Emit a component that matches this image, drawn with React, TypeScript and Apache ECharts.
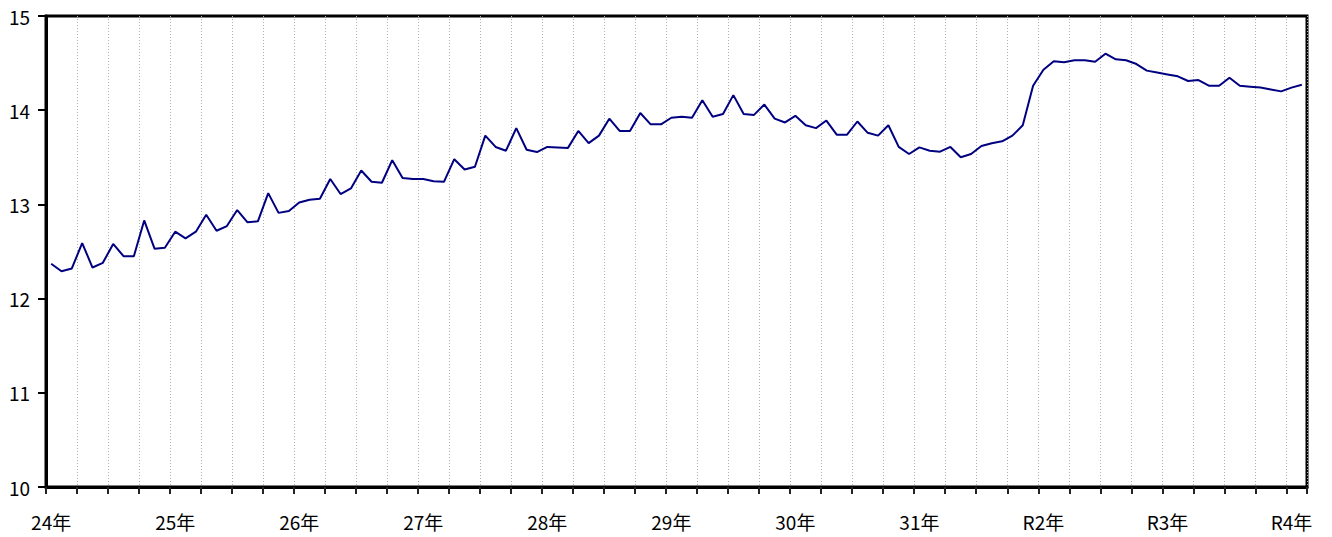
import React, { useEffect, useRef } from "react";
import * as echarts from "echarts";

const yearLabels = ["24年", "25年", "26年", "27年", "28年", "29年", "30年", "31年", "R2年", "R3年", "R4年"];
const monthsInLastYear = 2;

const values = [
  12.37, 12.29, 12.32, 12.59, 12.33, 12.38, 12.58, 12.45, 12.45, 12.83, 12.53, 12.54,
  12.71, 12.64, 12.71, 12.89, 12.72, 12.77, 12.94, 12.81, 12.82, 13.12, 12.91, 12.93,
  13.02, 13.05, 13.06, 13.27, 13.11, 13.17, 13.36, 13.24, 13.23, 13.47, 13.28, 13.27,
  13.27, 13.245, 13.24, 13.48, 13.37, 13.4, 13.73, 13.61, 13.57, 13.81, 13.58, 13.556,
  13.61, 13.605, 13.6, 13.78, 13.65, 13.73, 13.91, 13.78, 13.78, 13.97, 13.85, 13.85,
  13.92, 13.93, 13.92, 14.105, 13.93, 13.96, 14.16, 13.96, 13.95, 14.06, 13.91, 13.87,
  13.94, 13.84, 13.81, 13.89, 13.74, 13.74, 13.88, 13.76, 13.73, 13.84, 13.61, 13.535,
  13.605, 13.57, 13.56, 13.61, 13.5, 13.535, 13.62, 13.65, 13.67, 13.73, 13.84, 14.26,
  14.43, 14.52, 14.51, 14.53, 14.53, 14.515, 14.6, 14.54, 14.53, 14.49, 14.42, 14.4,
  14.38, 14.36, 14.31, 14.32, 14.26, 14.26, 14.345, 14.26, 14.25, 14.24, 14.22, 14.2,
  14.24, 14.27,
];

const categories: string[] = [];
yearLabels.forEach((y, yi) => {
  const n = yi === yearLabels.length - 1 ? monthsInLastYear : 12;
  for (let m = 1; m <= n; m++) categories.push(`${y}${m}月`);
});

const FONT = "'Noto Sans CJK JP', 'Noto Sans', sans-serif";

export default function App() {
  const ref = useRef<HTMLDivElement>(null);
  useEffect(() => {
    if (!ref.current) return;
    const chart = echarts.init(ref.current, undefined, { renderer: "svg" });
    chart.setOption({
      animation: false,
      backgroundColor: "#ffffff",
      grid: {
        left: 46,
        top: 16,
        right: 25,
        bottom: 50,
        show: true,
        borderColor: "#000000",
        borderWidth: 3,
        containLabel: false,
      },
      xAxis: {
        type: "category",
        data: categories,
        boundaryGap: true,
        axisLine: { show: true, lineStyle: { color: "#000000", width: 3 } },
        axisTick: {
          show: true,
          interval: 2,
          length: 7,
          lineStyle: { color: "#222222", width: 2 },
        },
        axisLabel: {
          interval: 11,
          margin: 25,
          color: "#000000",
          fontSize: 19,
          fontFamily: FONT,
          formatter: (_v: string, idx: number) =>
            idx % 12 === 0 ? yearLabels[idx / 12] : "",
        },
        splitLine: {
          show: true,
          interval: 2,
          lineStyle: { color: "#b0b0b0", width: 1, type: [1, 2] },
        },
      },
      yAxis: {
        type: "value",
        min: 10,
        max: 15,
        interval: 1,
        axisLine: { show: true, lineStyle: { color: "#000000", width: 3 } },
        axisTick: {
          show: true,
          length: 8,
          lineStyle: { color: "#000000", width: 2 },
        },
        axisLabel: {
          margin: 16,
          color: "#000000",
          fontSize: 19,
          fontFamily: FONT,
        },
        splitLine: { show: false },
      },
      series: [
        {
          type: "line",
          data: values,
          symbol: "none",
          lineStyle: { color: "#000080", width: 2 },
          itemStyle: { color: "#000080" },
        },
      ],
    });
    return () => chart.dispose();
  }, []);
  return (
    <div
      ref={ref}
      style={{ position: "fixed", left: 0, top: 0, width: 1332, height: 537 }}
    />
  );
}
